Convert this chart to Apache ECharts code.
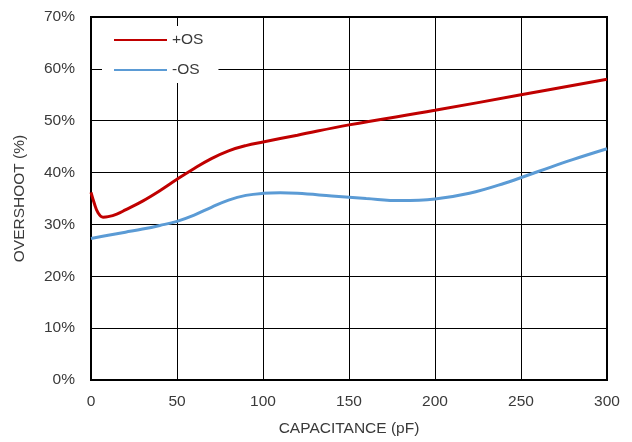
<!DOCTYPE html>
<html>
<head>
<meta charset="utf-8">
<script src="https://cdn.jsdelivr.net/npm/echarts@6/dist/echarts.min.js"></script>
<style>html,body{margin:0;padding:0;background:#fff;}#c{width:632px;height:442px;}</style>
</head>
<body>
<div id="c"></div>
<script>
var posCap = [0, 2, 4, 7, 10, 15, 20, 30, 40, 50, 60, 70, 80, 90, 100, 120, 150, 200, 250, 300];
var posOS  = [36.2, 34.0, 32.3, 31.4, 31.5, 32.0, 32.8, 34.5, 36.5, 38.7, 40.8, 42.7, 44.2, 45.2, 45.9, 47.2, 49.2, 52.0, 55.0, 58.0];
var negCap = [0, 10, 20, 30, 40, 50, 60, 70, 80, 90, 100, 110, 120, 140, 160, 180, 200, 220, 240, 260, 280, 300];
var negOS  = [27.3, 27.9, 28.5, 29.1, 29.8, 30.6, 31.8, 33.3, 34.7, 35.6, 36.0, 36.1, 36.0, 35.5, 35.0, 34.6, 34.9, 36.0, 37.9, 40.2, 42.5, 44.6];
var seriesNames = ['+OS', '-OS'];

function pairs(xs, ys) { return xs.map(function (x, i) { return [x, ys[i]]; }); }

var chart = echarts.init(document.getElementById('c'), null, {renderer: 'canvas'});
var font = 'Liberation Sans, Arial, sans-serif';
var txt = '#3a3a3a';
chart.setOption({
  animation: false,
  backgroundColor: '#fff',
  grid: {left: 91, right: 25, top: 17, bottom: 59, show: true, borderColor: '#000', borderWidth: 2, backgroundColor: 'transparent'},
  legend: {
    left: 102, top: 26, orient: 'vertical', backgroundColor: '#fff',
    padding: [6, 15, 5, 11], itemWidth: 53, itemHeight: 14, itemGap: 14,
    itemStyle: {opacity: 0},
    textStyle: {fontFamily: font, fontSize: 15.5, color: txt},
    data: seriesNames
  },
  xAxis: {
    type: 'value', min: 0, max: 300, interval: 50,
    name: 'CAPACITANCE (pF)', nameLocation: 'middle', nameGap: 41,
    nameTextStyle: {fontFamily: font, fontSize: 15.5, color: txt},
    axisLine: {show: false}, axisTick: {show: false},
    axisLabel: {fontFamily: font, fontSize: 15.5, color: txt, margin: 14},
    splitLine: {show: true, lineStyle: {color: '#000', width: 1}}
  },
  yAxis: {
    type: 'value', min: 0, max: 70, interval: 10,
    name: 'OVERSHOOT (%)', nameLocation: 'middle', nameGap: 63, nameRotate: 90,
    nameTextStyle: {fontFamily: font, fontSize: 15.5, color: txt},
    axisLine: {show: false}, axisTick: {show: false},
    axisLabel: {fontFamily: font, fontSize: 15.5, color: txt, margin: 16, formatter: '{value}%'},
    splitLine: {show: true, lineStyle: {color: '#000', width: 1}}
  },
  series: [
    {name: seriesNames[0], type: 'line', data: pairs(posCap, posOS), smooth: 0.4, symbol: 'none',
     lineStyle: {color: '#C00000', width: 3}, itemStyle: {color: '#C00000'}, z: 3},
    {name: seriesNames[1], type: 'line', data: pairs(negCap, negOS), smooth: 0.4, symbol: 'none',
     lineStyle: {color: '#5B9BD5', width: 3}, itemStyle: {color: '#5B9BD5'}, z: 2}
  ]
});
</script>
</body>
</html>
